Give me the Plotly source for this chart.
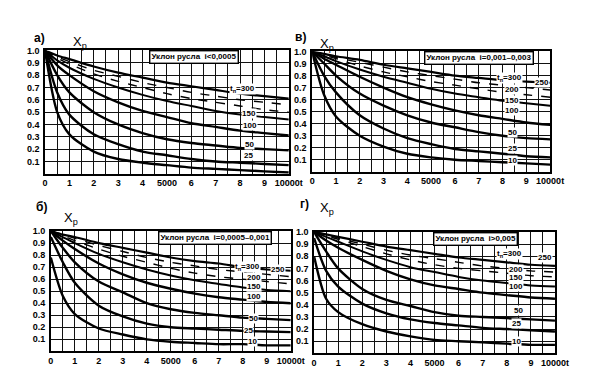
import plotly.graph_objects as go

# ---------------- data ----------------
t_vals = [0, 500, 1000, 2000, 3000, 4000, 5000, 6000, 7000, 8000, 9000, 10000]
tn_list = [300, 250, 200, 150, 100, 50, 25, 10]

# panel а) i < 0,0005
a_300 = [1.0, 0.96, 0.93, 0.87, 0.82, 0.78, 0.74, 0.71, 0.68, 0.65, 0.63, 0.61]
a_250 = [1.0, 0.95, 0.91, 0.84, 0.79, 0.74, 0.70, 0.66, 0.63, 0.60, 0.58, 0.56]
a_200 = [1.0, 0.94, 0.89, 0.81, 0.75, 0.70, 0.65, 0.61, 0.58, 0.55, 0.52, 0.50]
a_150 = [1.0, 0.92, 0.86, 0.77, 0.70, 0.64, 0.59, 0.55, 0.51, 0.48, 0.46, 0.44]
a_100 = [1.0, 0.88, 0.80, 0.67, 0.58, 0.51, 0.46, 0.41, 0.38, 0.35, 0.33, 0.31]
a_50 = [1.0, 0.80, 0.66, 0.50, 0.40, 0.33, 0.28, 0.25, 0.23, 0.21, 0.20, 0.19]
a_25 = [1.0, 0.66, 0.48, 0.32, 0.24, 0.18, 0.15, 0.12, 0.10, 0.09, 0.08, 0.07]
a_10 = [1.0, 0.50, 0.32, 0.18, 0.12, 0.09, 0.07, 0.05, 0.04, 0.03, 0.02, 0.01]

# panel в) i = 0,001-0,003
v_300 = [1.0, 0.98, 0.96, 0.93, 0.89, 0.86, 0.83, 0.80, 0.78, 0.76, 0.75, 0.74]
v_250 = [1.0, 0.98, 0.95, 0.91, 0.87, 0.83, 0.80, 0.77, 0.74, 0.72, 0.70, 0.68]
v_200 = [1.0, 0.97, 0.94, 0.88, 0.83, 0.79, 0.75, 0.72, 0.69, 0.66, 0.64, 0.62]
v_150 = [1.0, 0.96, 0.92, 0.85, 0.79, 0.74, 0.69, 0.65, 0.62, 0.59, 0.57, 0.55]
v_100 = [1.0, 0.94, 0.89, 0.79, 0.70, 0.62, 0.56, 0.51, 0.47, 0.44, 0.41, 0.39]
v_50 = [1.0, 0.90, 0.80, 0.65, 0.55, 0.47, 0.41, 0.37, 0.33, 0.30, 0.28, 0.27]
v_25 = [1.0, 0.80, 0.66, 0.47, 0.36, 0.28, 0.23, 0.19, 0.17, 0.15, 0.13, 0.12]
v_10 = [1.0, 0.64, 0.46, 0.30, 0.21, 0.15, 0.12, 0.10, 0.09, 0.08, 0.07, 0.06]

# panel б) i = 0,0005-0,001
b_300 = [1.0, 0.97, 0.95, 0.90, 0.86, 0.82, 0.78, 0.75, 0.73, 0.70, 0.68, 0.67]
b_250 = [1.0, 0.97, 0.94, 0.88, 0.83, 0.78, 0.74, 0.71, 0.68, 0.66, 0.64, 0.62]
b_200 = [1.0, 0.96, 0.92, 0.85, 0.79, 0.74, 0.69, 0.65, 0.62, 0.60, 0.58, 0.56]
b_150 = [1.0, 0.95, 0.90, 0.81, 0.74, 0.68, 0.63, 0.59, 0.56, 0.53, 0.51, 0.50]
b_100 = [1.0, 0.92, 0.85, 0.73, 0.64, 0.57, 0.52, 0.48, 0.45, 0.43, 0.41, 0.40]
b_50 = [1.0, 0.86, 0.74, 0.58, 0.49, 0.40, 0.35, 0.32, 0.30, 0.28, 0.27, 0.26]
b_25 = [0.95, 0.74, 0.57, 0.38, 0.29, 0.23, 0.20, 0.19, 0.18, 0.17, 0.165, 0.16]
b_10 = [0.78, 0.46, 0.31, 0.19, 0.14, 0.10, 0.08, 0.07, 0.06, 0.06, 0.05, 0.05]

# panel г) i > 0,005
g_300 = [1.0, 0.98, 0.96, 0.92, 0.88, 0.85, 0.82, 0.79, 0.77, 0.75, 0.73, 0.72]
g_250 = [1.0, 0.98, 0.95, 0.90, 0.85, 0.81, 0.78, 0.75, 0.72, 0.70, 0.68, 0.67]
g_200 = [1.0, 0.97, 0.94, 0.88, 0.82, 0.77, 0.73, 0.70, 0.68, 0.66, 0.64, 0.63]
g_150 = [1.0, 0.96, 0.92, 0.84, 0.77, 0.71, 0.67, 0.63, 0.60, 0.58, 0.56, 0.55]
g_100 = [1.0, 0.93, 0.87, 0.77, 0.68, 0.61, 0.56, 0.53, 0.50, 0.48, 0.46, 0.45]
g_50 = [1.0, 0.84, 0.70, 0.53, 0.44, 0.39, 0.34, 0.31, 0.30, 0.29, 0.28, 0.27]
g_25 = [0.95, 0.68, 0.55, 0.41, 0.33, 0.28, 0.25, 0.23, 0.21, 0.20, 0.19, 0.18]
g_10 = [0.80, 0.45, 0.34, 0.24, 0.18, 0.14, 0.11, 0.10, 0.09, 0.08, 0.07, 0.07]

x_tick_vals = [0, 1000, 2000, 3000, 4000, 5000, 6000, 7000, 8000, 9000, 10000]
x_tick_text = ["0", "1", "2", "3", "4", "5000", "6", "7", "8", "9", "10000t"]
y_tick_vals = [0.1, 0.2, 0.3, 0.4, 0.5, 0.6, 0.7, 0.8, 0.9, 1.0]
y_tick_text = ["0.1", "0.2", "0.3", "0.4", "0.5", "0.6", "0.7", "0.8", "0.9", "1.0"]

panel_letters = ["а)", "в)", "б)", "г)"]
slope_texts = ["Уклон русла  i<0,0005", "Уклон русла  i=0,001–0,003",
               "Уклон русла  i=0,0005–0,001", "Уклон русла  i>0,005"]

panels = [
    [a_300, a_250, a_200, a_150, a_100, a_50, a_25, a_10],
    [v_300, v_250, v_200, v_150, v_100, v_50, v_25, v_10],
    [b_300, b_250, b_200, b_150, b_100, b_50, b_25, b_10],
    [g_300, g_250, g_200, g_150, g_100, g_50, g_25, g_10],
]

# curve labels per panel: (text, t, X)
curve_labels = [
    [("t<sub>п</sub>=300", 8100, 0.69), ("150", 8350, 0.485), ("100", 8400, 0.39),
     ("50", 8400, 0.24), ("25", 8350, 0.146)],
    [("t<sub>п</sub>=300", 8300, 0.78), ("250", 9650, 0.745), ("200", 8400, 0.685),
     ("150", 8400, 0.59), ("100", 8400, 0.51), ("50", 8400, 0.33),
     ("25", 8400, 0.19), ("10", 8400, 0.09)],
    [("t<sub>п</sub>=300", 8200, 0.70), ("250", 9450, 0.68), ("200", 8450, 0.61),
     ("150", 8450, 0.54), ("100", 8450, 0.455), ("50", 8450, 0.27),
     ("25", 8250, 0.175), ("10", 8400, 0.078)],
    [("t<sub>п</sub>=300", 8100, 0.815), ("250", 9600, 0.79), ("200", 8400, 0.69),
     ("150", 8400, 0.625), ("100", 8400, 0.55), ("50", 8500, 0.355),
     ("25", 8400, 0.25), ("10", 8400, 0.10)],
]

# ---------------- layout geometry ----------------
W, H = 594, 370
px_boxes = [  # (left, right, top, bottom) in pixels
    (35, 286, 38, 163),
    (310, 555, 39, 161),
    (41, 288, 221, 343),
    (312, 560, 222, 345),
]
letter_pos = [(22, 16), (298, 15), (24, 197), (302, 194)]
xr_pos = [(62, 19), (325, 21), (53, 208), (325, 198)]
slope_center = [(188, 45), (482, 46), (210, 228), (478, 229)]

FONT = "Liberation Sans"
fig = go.Figure()

styles = [
    dict(width=2.2, dash="solid"),
    dict(width=1.4, dash="dash"),
    dict(width=1.4, dash="dash"),
    dict(width=2.0, dash="solid"),
    dict(width=2.4, dash="solid"),
    dict(width=2.4, dash="solid"),
    dict(width=2.4, dash="solid"),
    dict(width=2.4, dash="solid"),
]

for i, curves in enumerate(panels):
    xa = "x" if i == 0 else f"x{i+1}"
    ya = "y" if i == 0 else f"y{i+1}"
    for k, ys in enumerate(curves):
        fig.add_trace(go.Scatter(
            x=t_vals, y=ys, mode="lines", xaxis=xa, yaxis=ya,
            line=dict(color="black", shape="spline", smoothing=0.8, **styles[k]),
            showlegend=False, hoverinfo="skip", name=f"tп={tn_list[k]}"))

    l, r, tp, bt = px_boxes[i]
    axis_common = dict(showline=True, linecolor="black", linewidth=1.6, mirror=True,
                       showgrid=True, gridcolor="#111", gridwidth=1, zeroline=False,
                       ticks="", tickfont=dict(family=FONT, size=9, color="black", weight="bold"))
    xkey = "xaxis" if i == 0 else f"xaxis{i+1}"
    ykey = "yaxis" if i == 0 else f"yaxis{i+1}"
    fig.update_layout({
        xkey: dict(domain=[l / W, r / W], range=[0, 10000], anchor=ya,
                   tickvals=x_tick_vals, ticktext=x_tick_text,
                   minor=dict(tickvals=[v + 500 for v in x_tick_vals[:-1]],
                              showgrid=True, gridcolor="#111", gridwidth=1),
                   **axis_common),
        ykey: dict(domain=[1 - bt / H, 1 - tp / H], range=[0, 1.0], anchor=xa,
                   tickvals=y_tick_vals, ticktext=y_tick_text, ticklabelstandoff=2,
                   **axis_common),
    })

    lx, ly = letter_pos[i]
    fig.add_annotation(x=lx / W, y=1 - ly / H, xref="paper", yref="paper",
                       text=panel_letters[i], showarrow=False,
                       font=dict(family=FONT, size=12, color="black", weight="bold"))
    qx, qy = xr_pos[i]
    fig.add_annotation(x=qx / W, y=1 - qy / H, xref="paper", yref="paper",
                       text="X<sub>р</sub>", showarrow=False,
                       font=dict(family=FONT, size=13, color="black"))

    cx, cy = slope_center[i]
    fig.add_annotation(x=cx / W, y=1 - cy / H, xref="paper", yref="paper",
                       xanchor="center", yanchor="middle",
                       text=slope_texts[i], showarrow=False,
                       bgcolor="white", bordercolor="black", borderwidth=1.4, borderpad=1,
                       font=dict(family=FONT, size=8, color="black", weight="bold"))

    for txt, tx, ty in curve_labels[i]:
        fig.add_annotation(x=tx, y=ty, xref=xa, yref=ya, text=txt, showarrow=False,
                           bgcolor="white", borderpad=0,
                           font=dict(family=FONT, size=8, color="black", weight="bold"))

fig.update_layout(width=W, height=H, margin=dict(l=0, r=0, t=0, b=0),
                  paper_bgcolor="white", plot_bgcolor="white", showlegend=False)

fig.write_html("out.html")
